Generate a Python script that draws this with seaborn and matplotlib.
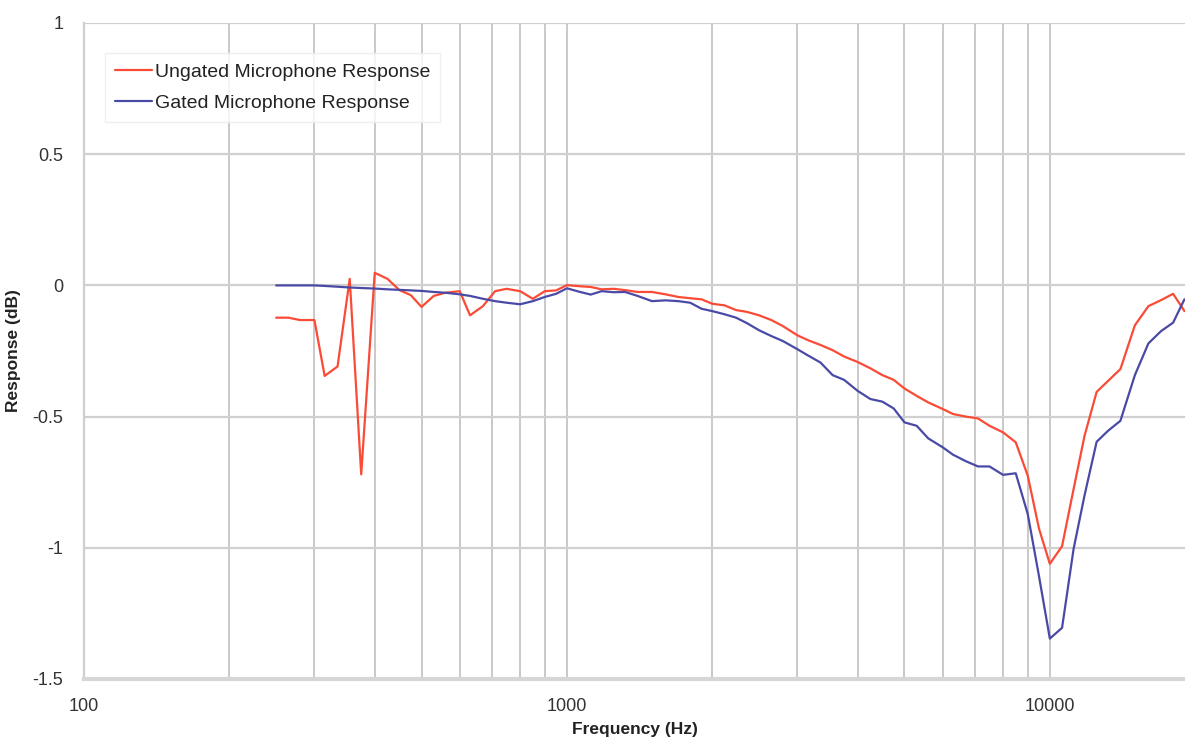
import pandas as pd
import matplotlib
matplotlib.use('Agg')
import matplotlib.pyplot as plt
import matplotlib.ticker as mticker
import seaborn as sns

# 1/12-octave frequencies (Hz)
freq = [250, 265, 280, 300, 315, 335, 355, 375, 400, 425, 450, 475,
        500, 530, 560, 600, 630, 670, 710, 750, 800, 850, 900, 950,
        1000, 1060, 1120, 1180, 1250, 1320, 1400, 1500, 1600, 1700, 1800, 1900,
        2000, 2120, 2240, 2360, 2500, 2650, 2800, 3000, 3150, 3350, 3550, 3750,
        4000, 4250, 4500, 4750, 5000, 5300, 5600, 6000, 6300, 6700, 7100, 7500,
        8000, 8500, 9000, 9500, 10000, 10600, 11200, 11800, 12500, 13200, 14000, 15000,
        16000, 17000, 18000, 19000]

ungated = [-0.123, -0.123, -0.132, -0.132, -0.345, -0.309, 0.025, -0.720, 0.048, 0.025, -0.018, -0.037,
           -0.082, -0.040, -0.028, -0.022, -0.114, -0.079, -0.022, -0.013, -0.022, -0.051, -0.022, -0.019,
           0.001, -0.003, -0.006, -0.015, -0.013, -0.018, -0.025, -0.025, -0.034, -0.044, -0.049, -0.053,
           -0.070, -0.076, -0.094, -0.101, -0.114, -0.132, -0.155, -0.190, -0.208, -0.227, -0.247, -0.271,
           -0.292, -0.316, -0.342, -0.360, -0.393, -0.421, -0.446, -0.471, -0.490, -0.500, -0.507, -0.535,
           -0.560, -0.598, -0.725, -0.928, -1.061, -0.994, -0.776, -0.573, -0.406, -0.364, -0.319, -0.152,
           -0.079, -0.056, -0.032, -0.098]

gated = [0.0, 0.0, 0.0, 0.0, -0.002, -0.005, -0.008, -0.010, -0.012, -0.015, -0.017, -0.019,
         -0.021, -0.025, -0.028, -0.034, -0.040, -0.051, -0.060, -0.066, -0.072, -0.060, -0.044, -0.032,
         -0.011, -0.024, -0.035, -0.022, -0.026, -0.025, -0.040, -0.060, -0.057, -0.060, -0.066, -0.089,
         -0.098, -0.110, -0.123, -0.144, -0.171, -0.193, -0.212, -0.243, -0.266, -0.294, -0.342, -0.360,
         -0.402, -0.433, -0.443, -0.469, -0.522, -0.535, -0.583, -0.617, -0.645, -0.670, -0.690, -0.690,
         -0.722, -0.716, -0.871, -1.110, -1.346, -1.305, -1.004, -0.800, -0.596, -0.554, -0.516, -0.342,
         -0.221, -0.174, -0.142, -0.053]

series_names = ['Ungated Microphone Response', 'Gated Microphone Response']
colors = ['#fa4b36', '#4a4aa6']

df = pd.DataFrame({
    'freq': freq * 2,
    'response': ungated + gated,
    'series': [series_names[0]] * len(freq) + [series_names[1]] * len(freq),
})

sns.set_style('white')
plt.rcParams['font.family'] = ['Liberation Sans', 'DejaVu Sans']

fig = plt.figure(figsize=(11.85, 7.4), dpi=100)
ax = fig.add_axes([84 / 1185, 61 / 740, 1101 / 1185, 656 / 740])

sns.lineplot(data=df, x='freq', y='response', hue='series', hue_order=series_names,
             palette=colors, linewidth=1.6, ax=ax, sort=False)

ax.set_xscale('log')
ax.set_xlim(100, 19050)
ax.set_ylim(-1.5, 1)
ax.set_yticks([1, 0.5, 0, -0.5, -1, -1.5])
ax.yaxis.set_major_formatter(mticker.FuncFormatter(lambda v, p: f'{v:g}'))
ax.set_xticks([100, 1000, 10000])
ax.xaxis.set_major_formatter(mticker.FuncFormatter(lambda v, p: f'{v:.0f}'))
ax.xaxis.set_minor_locator(mticker.LogLocator(base=10, subs=range(2, 10)))
ax.xaxis.set_minor_formatter(mticker.NullFormatter())

ax.grid(True, which='both', axis='x', color='#c9c9c9', linewidth=1.4)
ax.grid(True, which='major', axis='y', color='#d0d0d0', linewidth=1.6)
ax.set_axisbelow(True)

for s in ['top', 'right']:
    ax.spines[s].set_visible(False)
ax.spines['left'].set_color('#cfcfcf')
ax.spines['left'].set_linewidth(1.6)
ax.spines['bottom'].set_color('#d6d6d6')
ax.spines['bottom'].set_linewidth(3)

ax.tick_params(axis='y', which='major', length=4, width=1.4, color='#cfcfcf',
               labelsize=13, labelcolor='#333333', pad=11)
ax.tick_params(axis='x', which='both', length=0, labelsize=13, labelcolor='#333333', pad=14)

ax.set_xlabel('Frequency (Hz)', fontsize=12.5, fontweight='bold', color='#222222', labelpad=5)
ax.set_ylabel('Response (dB)', fontsize=12.5, fontweight='bold', color='#222222', labelpad=8)

leg = ax.legend(loc='upper left', bbox_to_anchor=(0.019, 0.954), borderaxespad=0,
                fontsize=14, frameon=True, fancybox=False, handlelength=1.9,
                handletextpad=0.15, labelspacing=0.72, borderpad=0.5)
leg.get_frame().set_edgecolor('#ececec')
leg.get_frame().set_linewidth(1.0)
for t in leg.get_texts():
    t.set_color('#222222')

fig.savefig('out.png', dpi=100, facecolor='white')
